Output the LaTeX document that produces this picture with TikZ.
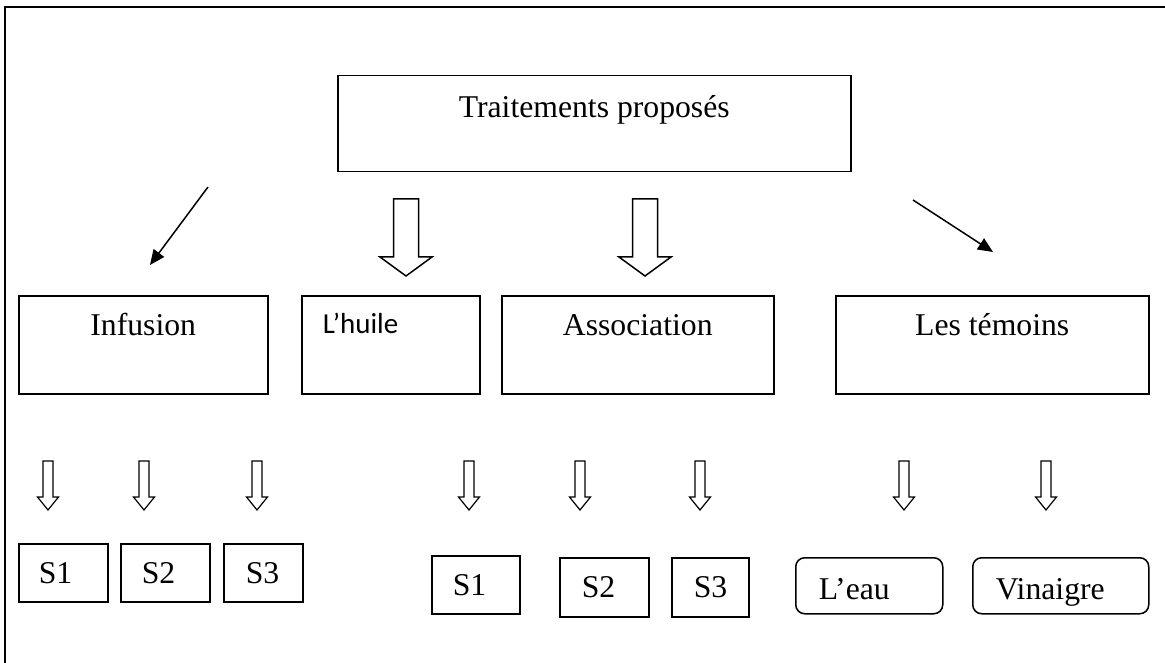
\documentclass[tikz,border=0pt]{standalone}
\usepackage{fontspec}
\setmainfont{Liberation Serif}
\newfontfamily\calibrifont{Carlito}
\usetikzlibrary{positioning,arrows.meta}
\tikzset{box/.style={draw,line width=1.5pt,inner sep=0pt,font=\fontsize{31.7}{38}\selectfont},
	big box/.style={box,text height=40pt,text depth=58pt},
	small box/.style={box,align=left,text height=40pt},
	thin arrow/.style={line width=1.5pt,-{Triangle[length=15pt,width=13pt]}},
	big down/.pic={\draw[line width=1.5pt] (-12.5,0) -- (-12.5,58) -- (-26,58) -- (0,77) -- (26,58) -- (12.5,58) -- (12.5,0) -- cycle;},
	small down/.pic={\draw[line width=1.2pt] (-5,0) -- (-5,36) -- (-10.5,36) -- (0,49) -- (10.5,36) -- (5,36) -- (5,0) -- cycle;},
}

\begin{document}
\begin{tikzpicture}[x=1pt,y=-1pt]
				\useasboundingbox (0,0) rectangle (1165,663);
				\clip (0,0) rectangle (1165,663);
				\draw[line width=1.5pt] (5,7) rectangle (1200,700);
				
				\node[box,anchor=north west,minimum width=513pt,text height=42pt,text depth=54pt] (T) at (337,75) {Traitements proposés};
				
				\node[big box,anchor=north west,minimum width=249pt] (Inf) at (18,295) {Infusion};
				\node[big box,text width=136pt,inner xsep=21pt,align=left,text height=38pt,text depth=60pt,font=\calibrifont\fontsize{29}{35}\selectfont] (Hui) [right=32.5pt of Inf] {L’huile};
				\node[big box,minimum width=272pt] (Asso) [right=20.5pt of Hui] {Association};
				\node[big box,minimum width=313pt] (Tem) [right=60.5pt of Asso] {Les témoins};
				
				\node[small box,anchor=north west,text depth=18pt,text width=49pt,inner xsep=20pt] (S1a) at (18,543) {S1};
				\node[small box,text depth=18pt,text width=47pt,inner xsep=21pt] (S2a) [right=11.5pt of S1a] {S2};
				\node[small box,text depth=18pt,text width=35pt,inner xsep=22pt] (S3a) [right=12.5pt of S2a] {S3};
				
				\node[small box,anchor=north west,text depth=18pt,text width=46pt,inner xsep=21pt] (S1b) at (431,555) {S1};
				\node[small box,anchor=north west,text depth=19pt,text width=45pt,inner xsep=22pt] (S2b) at (559,557) {S2};
				\node[small box,anchor=north west,text depth=19pt,text width=33pt,inner xsep=22pt] (S3b) at (671,557) {S3};
				\node[small box,anchor=north west,rounded corners=9pt,text height=42pt,text depth=14pt,text width=101pt,inner xsep=23pt] (Eau) at (795,557) {L’eau};
				\node[small box,anchor=north west,rounded corners=9pt,text height=42pt,text depth=14pt,text width=130pt,inner xsep=23pt] (Vin) at (972,557) {Vinaigre};
				
				\coordinate (la) at (208,187);
				\coordinate (lb) at (150,265);
				\coordinate (ra) at (913,200);
				\coordinate (rb) at (993,252);
				\draw[thin arrow] (la) -- (lb);
				\draw[thin arrow] (ra) -- (rb);
				
				\pic at (406,199) {big down};
				\pic at (645,199) {big down};
				\foreach \x in {48,144,257,469,580,700,904,1046}
				\pic at (\x,461) {small down};
				
			\end{tikzpicture}
\end{document}
